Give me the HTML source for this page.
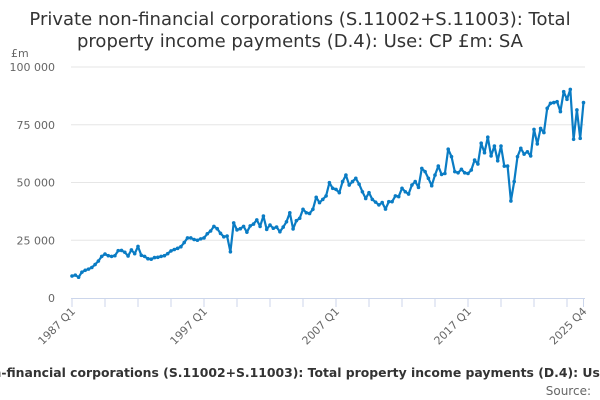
<!DOCTYPE html>
<html><head><meta charset="utf-8"><style>
html,body{margin:0;padding:0;background:#fff;width:600px;height:400px;overflow:hidden;font-family:"DejaVu Sans","Liberation Sans",sans-serif;}
svg{display:block}
</style></head><body>
<svg id="chart" width="600" height="400" viewBox="0 0 600 400">
<text x="300" y="25" text-anchor="middle" font-size="18" fill="#333">Private non-financial corporations (S.11002+S.11003): Total</text>
<text x="300" y="47" text-anchor="middle" font-size="18" fill="#333">property income payments (D.4): Use: CP £m: SA</text>
<text x="11" y="57" font-size="11" fill="#666">£m</text>
<g id="grid"></g><g id="xaxis"></g>
<path id="line" fill="none" stroke="#0a7cc4" stroke-width="2.2" stroke-linejoin="round"/>
<g id="dots"></g>
<text x="305" y="377" text-anchor="middle" font-size="12.4" font-weight="bold" fill="#333">Private non-financial corporations (S.11002+S.11003): Total property income payments (D.4): Use: CP £m: SA</text>
<text x="591" y="395" text-anchor="end" font-size="12" fill="#666">Source:</text>
</svg>
<script>
const yTicks=[0,25000,50000,75000,100000];
const yTickLabels=["0","25 000","50 000","75 000","100 000"];
const xTickLabels=["1987 Q1","1997 Q1","2007 Q1","2017 Q1","2025 Q4"];
const xTickIdx=[0,40,80,120,155];
const values=[9.5,9.9,9.0,11.2,12.0,12.5,13.2,14.5,16.0,18.0,19.0,18.3,18.0,18.3,20.5,20.6,19.8,18.2,20.8,19.2,22.3,18.5,18.0,17.0,16.8,17.5,17.6,18.0,18.3,19.2,20.4,21.0,21.5,22.2,24.0,26.0,26.0,25.3,25.0,25.6,26.0,27.8,29.0,31.0,30.0,28.0,26.5,26.8,20.0,32.5,29.5,30.0,31.0,28.5,31.2,32.0,33.8,31.0,35.5,29.7,31.6,30.2,30.7,28.7,30.7,33,36.9,29.9,33.5,34.5,38.4,36.9,36.6,38.4,43.6,41.3,42.7,44.2,49.9,47.5,47,45.6,50.4,53.2,48.9,50.4,51.8,49.3,46,43.1,45.6,42.7,41.5,40.3,41.3,38.5,41.7,41.7,44.2,43.9,47.5,46,45,48.9,50.4,47.9,56.1,54.7,51.8,48.6,53.2,57.1,53.5,53.9,64.4,61.2,54.7,54.2,55.7,54.2,53.9,55.4,59.7,58,67,62.9,69.6,61.5,65.8,59.4,65.8,57.1,57.1,42,50.4,61.2,64.8,62.3,63.3,61.5,73,66.7,73.4,71.6,82.1,84.3,84.6,85,80.7,89.3,86,90.3,68.7,81.4,69.1,84.6];
const NS="http://www.w3.org/2000/svg";
const x0=72,x1=583.5,y0=298,y1=67;
const xs=i=>x0+(x1-x0)*i/(values.length-1);
const ys=v=>y0-(y0-y1)*v/100000;
const grid=document.getElementById('grid');
yTicks.forEach((t,k)=>{
 if(t>0){const l=document.createElementNS(NS,'line');
 
 
 l.setAttribute('x1',71);l.setAttribute('x2',585);l.setAttribute('y1',ys(t));l.setAttribute('y2',ys(t));
 l.setAttribute('stroke','#e6e6e6');l.setAttribute('stroke-width','1');grid.appendChild(l);}
 const tx=document.createElementNS(NS,'text');
 
 
 tx.setAttribute('x',55);tx.setAttribute('y',ys(t)+4);tx.setAttribute('text-anchor','end');
 tx.setAttribute('font-size','11');tx.setAttribute('fill','#666');tx.textContent=yTickLabels[k];grid.appendChild(tx);
});
const xa=document.getElementById('xaxis');
const al=document.createElementNS(NS,'line');


al.setAttribute('x1',71);al.setAttribute('x2',585);al.setAttribute('y1',298.5);al.setAttribute('y2',298.5);al.setAttribute('stroke','#ccd6eb');xa.appendChild(al);
for(let i=0;i<values.length;i+=10){
 const t=document.createElementNS(NS,'line');
 
 
 t.setAttribute('x1',xs(i));t.setAttribute('x2',xs(i));t.setAttribute('y1',298);t.setAttribute('y2',307);t.setAttribute('stroke','#ccd6eb');xa.appendChild(t);
}
const te=document.createElementNS(NS,'line');


te.setAttribute('x1',xs(155));te.setAttribute('x2',xs(155));te.setAttribute('y1',298);te.setAttribute('y2',307);te.setAttribute('stroke','#ccd6eb');xa.appendChild(te);
xTickIdx.forEach((i,k)=>{
 const tx=document.createElementNS(NS,'text');
 
 
 const x=xs(i)+4,y=312;
 tx.setAttribute('x',x);tx.setAttribute('y',y);tx.setAttribute('text-anchor','end');
 tx.setAttribute('transform','rotate(-45 '+x+' '+y+')');
 tx.setAttribute('font-size','11');tx.setAttribute('fill','#666');tx.textContent=xTickLabels[k];xa.appendChild(tx);
});
let d='';
values.forEach((v,i)=>{d+=(i?'L':'M')+xs(i).toFixed(2)+' '+ys(v*1000).toFixed(2);});
document.getElementById('line').setAttribute('d',d);
const dots=document.getElementById('dots');
values.forEach((v,i)=>{
 const c=document.createElementNS(NS,'circle');
 
 
 c.setAttribute('cx',xs(i));c.setAttribute('cy',ys(v*1000));c.setAttribute('r','1.8');c.setAttribute('fill','#0a7cc4');dots.appendChild(c);
});
</script>
</body></html>
